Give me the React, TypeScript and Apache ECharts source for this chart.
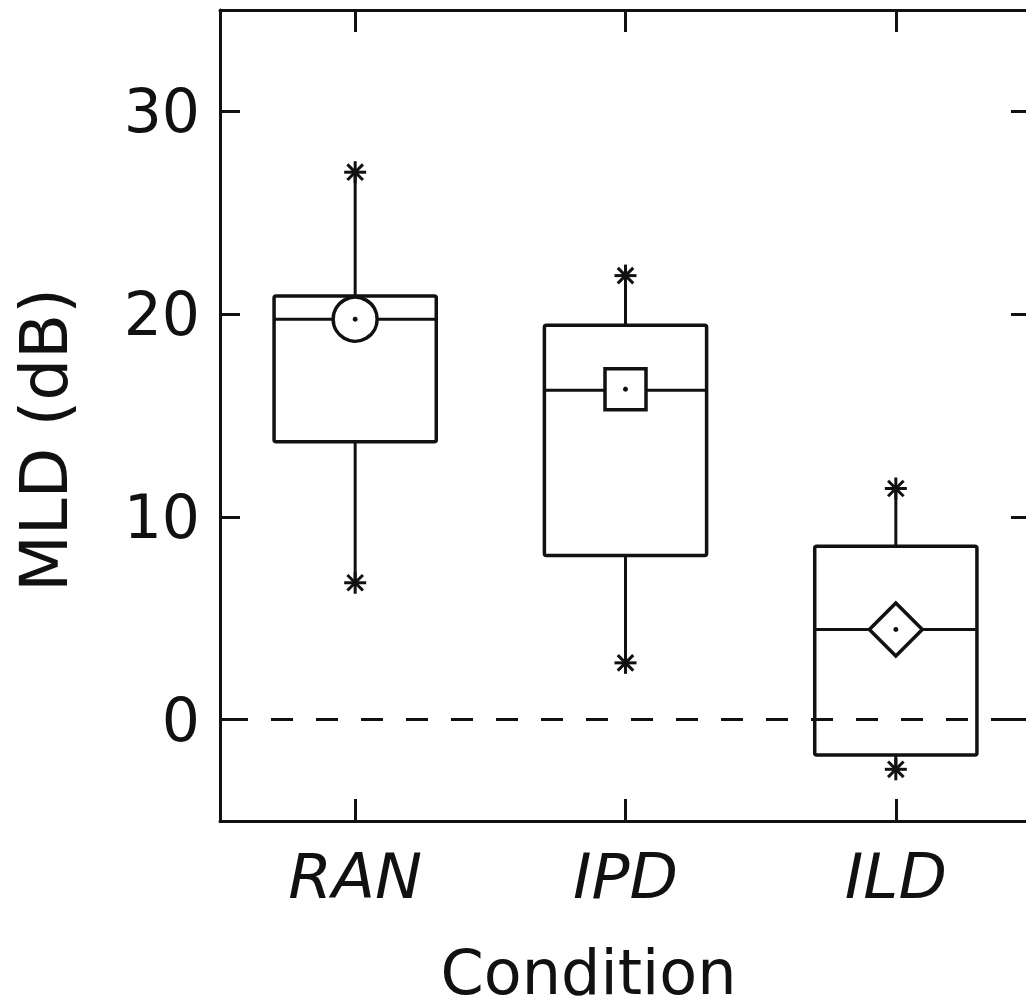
import React, { useEffect, useRef } from "react";
import * as echarts from "echarts";

const categories = ["RAN", "IPD", "ILD"];
const lowStar = [6.75, 2.8, -2.45];
const q1 = [13.7, 8.1, -1.75];
const median = [19.75, 16.25, 4.45];
const q3 = [20.9, 19.45, 8.55];
const highStar = [27.0, 21.9, 11.4];
const means = [19.75, 16.3, 4.45];
const meanSymbols = ["circle", "rect", "diamond"];
const meanSizes = [44, 41, 53];
const yTicks = [0, 10, 20, 30];

const INK = "#111";
const FONT = "DejaVu Sans";

function starLines(cx: number, cy: number, r: number) {
  const out: any[] = [];
  const angles = [0, Math.PI / 4, Math.PI / 2, (3 * Math.PI) / 4];
  for (const a of angles) {
    const dx = Math.cos(a) * r;
    const dy = Math.sin(a) * r;
    out.push({
      type: "line",
      shape: { x1: cx - dx, y1: cy - dy, x2: cx + dx, y2: cy + dy },
      style: { stroke: INK, lineWidth: 3 },
    });
  }
  return out;
}

export default function App() {
  const ref = useRef<HTMLDivElement>(null);
  useEffect(() => {
    if (!ref.current) return;
    const chart = echarts.init(ref.current, undefined, { renderer: "svg" });
    const boxData = categories.map((_, i) => [i, lowStar[i], q1[i], median[i], q3[i], highStar[i]]);
    const axisLine = { show: true, onZero: false, lineStyle: { color: INK, width: 3 } };
    const option: any = {
      animation: false,
      backgroundColor: "#fff",
      grid: { left: 220, right: 9, top: 10, bottom: 186, containLabel: false },
      xAxis: [
        {
          type: "category",
          data: categories,
          position: "bottom",
          axisLine,
          axisTick: { show: true, inside: true, length: 22, alignWithLabel: true, lineStyle: { color: INK, width: 3 } },
          axisLabel: { fontStyle: "italic", fontFamily: FONT, fontSize: 63, color: INK, margin: 24 },
          name: "Condition",
          nameLocation: "middle",
          nameGap: 120,
          nameTextStyle: { fontFamily: FONT, fontSize: 62, color: INK, padding: [0, 74, 0, 0] },
        },
        {
          type: "category",
          data: categories,
          position: "top",
          axisLine,
          axisTick: { show: true, inside: true, length: 22, alignWithLabel: true, lineStyle: { color: INK, width: 3 } },
          axisLabel: { show: false },
        },
      ],
      yAxis: [
        {
          type: "value",
          min: -5,
          max: 35,
          position: "left",
          splitLine: { show: false },
          axisLine,
          axisTick: { show: true, inside: true, length: 20, customValues: yTicks, lineStyle: { color: INK, width: 3 } },
          axisLabel: { customValues: yTicks, fontFamily: FONT, fontSize: 60, color: INK, margin: 20 },
        },
        {
          type: "value",
          min: -5,
          max: 35,
          position: "right",
          splitLine: { show: false },
          axisLine,
          axisTick: { show: true, inside: true, length: 20, customValues: yTicks, lineStyle: { color: INK, width: 3 } },
          axisLabel: { show: false },
        },
      ],
      graphic: [
        {
          type: "text",
          x: 44,
          y: 440,
          rotation: Math.PI / 2,
          style: {
            text: "MLD (dB)",
            fontFamily: FONT,
            fontSize: 66,
            fill: INK,
            align: "center",
            verticalAlign: "middle",
          },
        },
      ],
      series: [
        {
          type: "custom",
          data: boxData,
          encode: { x: 0, y: [1, 2, 3, 4, 5] },
          markLine: {
            silent: true,
            symbol: "none",
            label: { show: false },
            lineStyle: { color: INK, width: 3, type: [22, 23], dashOffset: -6 },
            data: [{ yAxis: 0 }],
          },
          renderItem: (params: any, api: any) => {
            const idx = api.value(0);
            const pLow = api.coord([idx, api.value(1)]);
            const pQ1 = api.coord([idx, api.value(2)]);
            const pMed = api.coord([idx, api.value(3)]);
            const pQ3 = api.coord([idx, api.value(4)]);
            const pHigh = api.coord([idx, api.value(5)]);
            const band = api.size([1, 0])[0];
            const half = band * 0.3;
            const x = pMed[0];
            const st = { stroke: INK, lineWidth: 3 };
            const children: any[] = [
              { type: "line", shape: { x1: x, y1: pLow[1], x2: x, y2: pQ1[1] }, style: st },
              { type: "line", shape: { x1: x, y1: pQ3[1], x2: x, y2: pHigh[1] }, style: st },
              {
                type: "rect",
                shape: { x: x - half, y: pQ3[1], width: 2 * half, height: pQ1[1] - pQ3[1], r: 2 },
                style: { stroke: INK, lineWidth: 3.5, fill: "none" },
              },
              { type: "line", shape: { x1: x - half, y1: pMed[1], x2: x + half, y2: pMed[1] }, style: st },
              ...starLines(x, pLow[1], 11),
              ...starLines(x, pHigh[1], 11),
            ];
            return { type: "group", children };
          },
          z: 2,
        },
        {
          type: "scatter",
          data: means.map((v, i) => ({
            value: [i, v],
            symbol: meanSymbols[i],
            symbolSize: meanSizes[i],
          })),
          itemStyle: { color: "#fff", borderColor: INK, borderWidth: 3.5, opacity: 1 },
          z: 3,
        },
        {
          type: "scatter",
          data: means.map((v, i) => [i, v]),
          symbol: "circle",
          symbolSize: 5,
          itemStyle: { color: INK, opacity: 1 },
          z: 4,
        },
      ],
    };
    chart.setOption(option);
    return () => chart.dispose();
  }, []);
  return (
    <div style={{ position: "fixed", left: 0, top: 0, width: 1026, height: 1008, overflow: "hidden", background: "#fff" }}>
      <div ref={ref} style={{ width: 1040, height: 1008 }} />
    </div>
  );
}
